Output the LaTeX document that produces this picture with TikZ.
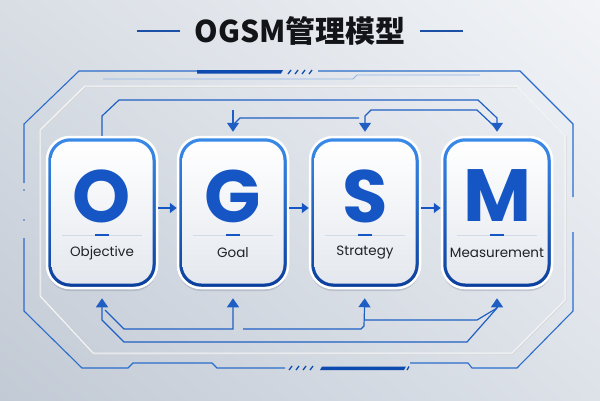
\documentclass[tikz,border=0pt]{standalone}
\usepackage{fontspec}
\setmainfont{Poppins}
\newfontfamily\titlefont{Noto Sans CJK SC}
\usetikzlibrary{arrows.meta,shadows,shadings}

\definecolor{bgul}{HTML}{D9DEE5}
\definecolor{bgur}{HTML}{F2F4F7}
\definecolor{bgll}{HTML}{C2CAD5}
\definecolor{bglr}{HTML}{DDE2E9}
\definecolor{borderhi}{HTML}{3A8BEA}
\definecolor{borderlo}{HTML}{0B3E9C}
\definecolor{facelo}{HTML}{E4E8EE}
\definecolor{letterblue}{HTML}{1656C4}
\definecolor{loopblue}{HTML}{1F5FC4}
\definecolor{frameblue}{HTML}{2A6CCB}
\definecolor{framedark}{HTML}{0D4BB0}
\definecolor{framefaint}{HTML}{8FB4E6}
\definecolor{ruleblue}{HTML}{1C4FA6}
\definecolor{titleink}{HTML}{121418}
\definecolor{labelink}{HTML}{1F2226}
\definecolor{shadowc}{HTML}{4A5568}
\definecolor{facerule}{HTML}{D3D9E2}

\tikzset{
  stagebox/.style={minimum width=110pt, minimum height=151pt, rounded corners=23pt, inner sep=0pt,
    top color=borderhi, bottom color=borderlo, draw=white, line width=2.5pt,
    drop shadow={shadow xshift=0pt, shadow yshift=-3pt, opacity=.2, fill=shadowc}},
  stageface/.style={minimum width=101pt, minimum height=142pt, rounded corners=19pt, inner sep=0pt,
    top color=white, bottom color=facelo},
  stageletter/.style={inner sep=0pt, text=letterblue, font=\bfseries\fontsize{74}{74}\selectfont},
  stagelabel/.style={inner sep=0pt, text=labelink, font=\fontsize{13.5}{14}\selectfont},
  flow/.style={draw=letterblue, line width=2.5pt, -{Triangle[length=7pt,width=10pt]}},
  loopline/.style={draw=loopblue, line width=1.2pt},
  loophead/.style={-{Triangle[length=9pt,width=12pt]}},
  frameline/.style={draw=frameblue, line width=1.1pt},
  emboss/.style={draw=white, line width=1pt, opacity=.8},
  titletext/.style={inner sep=0pt, text=titleink, font=\titlefont\bfseries\fontsize{30}{30}\selectfont}
}

\begin{document}
\begin{tikzpicture}[x=1pt, y=-1pt]
  \useasboundingbox (0,0) rectangle (600,400);
  \shade[upper left=bgul, upper right=bgur, lower left=bgll, lower right=bglr] (0,0) rectangle (600,400);

  \node[titletext] (title) at (300,31) {OGSM管理模型};
  \draw[ruleblue, line width=1.3pt] ([xshift=-14pt]title.west) -- ++(-43,0);
  \draw[ruleblue, line width=1.3pt] ([xshift=14pt]title.east) -- ++(43,0);

  \draw[black!15, line width=1pt] (41,296) -- (41,131) -- (86,87) -- (518,87) -- (566,137) -- (566,301) -- (513,354) -- (94,354) -- cycle;
  \draw[emboss] (40,296) -- (40,130) -- (85,86) -- (517,86) -- (565,136) -- (565,300) -- (512,353) -- (93,353) -- cycle;

  \draw[frameline] (24,183) -- (24,124) -- (79,71) -- (197,71);
  \fill[framedark] (197,70) -- (283,70) -- (281,73.5) -- (197,73.5) -- cycle;
  \foreach \d in {0,7,14,21}
    \draw[framedark, line width=1.3pt] (288+\d,74) -- (291+\d,70);
  \draw[frameline] (318,71) -- (520,71) -- (573,124) -- (573,197);
  \draw[frameline] (573,232) -- (573,311) -- (517,368) -- (472,368) -- (468,363) -- (410,363);
  \fill[framedark] (322,366.5) -- (406,366.5) -- (404,370) -- (320,370) -- cycle;
  \draw[framedark, line width=1.3pt] (407,370) -- (409,366.5);
  \foreach \d in {0,7,14,21}
    \draw[framedark, line width=1.3pt] (289+\d,370) -- (292+\d,366);
  \draw[frameline] (285,368) -- (217,368) -- (212,363) -- (133,363) -- (128,368) -- (82,368) -- (24,311) -- (24,238);
  \fill[frameblue] (24,190) circle (0.8);
  \fill[frameblue] (24,220) circle (0.8);
  \draw[framefaint, line width=.8pt] (103,79) -- (353,79) -- (357,75) -- (480,75);

  \foreach \n/\x/\t in {O/102/Objective, G/233/Goal, S/365/Strategy, M/497/Measurement}{
    \node[stagebox] (\n) at (\x,212.5) {};
    \node[stageface] (\n face) at (\n) {};
    \node[stageletter] (\n letter) at (\x,196) {\n};
    \draw[facerule, line width=.8pt] (\x-40,235) -- (\x+40,235);
    \draw[letterblue, line width=2pt] (\x-7,235) -- (\x+7,235);
    \node[stagelabel] (\n label) at (\x,253) {\t};
  }

  \foreach \a/\b in {O/G, G/S, S/M}
    \draw[flow] ([yshift=4.5pt]\a.east) -- ([yshift=4.5pt]\b.west);

  \coordinate (Mjoin) at (494,126);
  \coordinate (Gtop) at (233,110);
  \coordinate (SGjoin) at (359,118);
  \coordinate (GSjoin) at (234,124);
  \draw[loopline, loophead, shorten >=4pt] (O.north) -- (102,116) -- (119,100) -- (478,100) -- (497,118) -- (M.north);
  \draw[loopline, loophead, shorten >=4pt] (Mjoin) -- (477,110) -- (371,110) -- (365,116) -- (S.north);
  \draw[loopline, loophead, shorten >=4pt] (Gtop) -- (G.north);
  \draw[loopline] (SGjoin) -- (240,118) -- (GSjoin);

  \coordinate (Mbot) at (497,308);
  \coordinate (Sfree) at (243,329);
  \coordinate (Ofree) at (105,310);
  \draw[loopline, loophead, shorten >=9pt] (Mbot) -- (M.south);
  \draw[loopline, loophead, shorten >=9pt] (Mbot) -- (467,342) -- (124,342) -- (102,320) -- (O.south);
  \draw[loopline] (Mbot) -- (477,320) -- (364,320);
  \draw[loopline, loophead, shorten >=9pt] (Sfree) -- (361,329) -- (364,326) -- (S.south);
  \draw[loopline, loophead, shorten >=9pt] (Ofree) -- (124,329) -- (233,329) -- (G.south);
\end{tikzpicture}
\end{document}
